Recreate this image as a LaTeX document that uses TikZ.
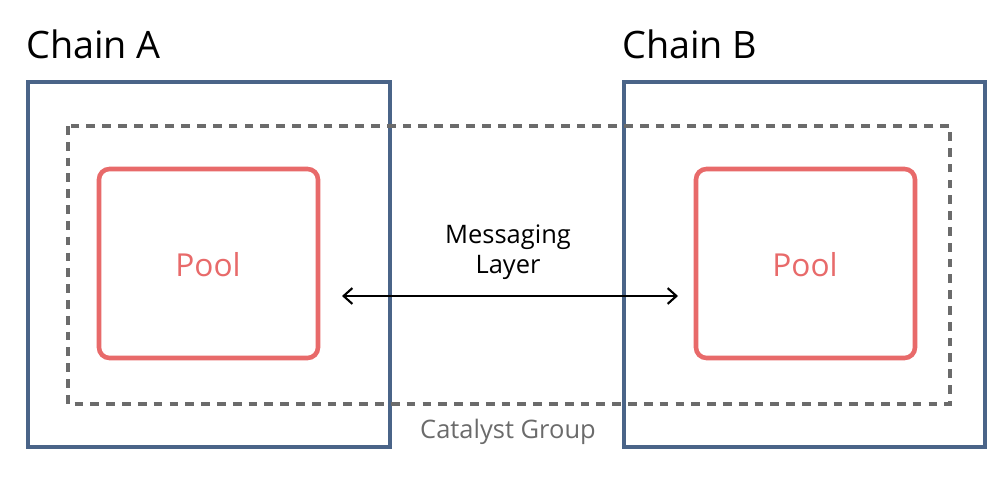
\documentclass[tikz,border=0pt]{standalone}
\usepackage{fontspec}
\usetikzlibrary{arrows.meta}
\setmainfont{Open Sans}
\definecolor{cblue}{HTML}{4A6488}
\definecolor{cred}{HTML}{E86A6A}
\definecolor{cgray}{HTML}{6B6B6B}
\begin{document}
\begin{tikzpicture}[x=0.02cm,y=-0.02cm,
  chain/.style={draw=cblue,line width=2.6pt},
  pool/.style={draw=cred,line width=2.6pt,rounded corners=6pt},
  lbl/.style={font=\fontsize{21.5}{26}\selectfont,anchor=west}]
\useasboundingbox (0,0) rectangle (1008,480);
\draw[chain] (28,82) rectangle (390,447);
\draw[chain] (624,82) rectangle (985,447);
\draw[cgray,line width=1.8pt,dash pattern=on 5pt off 4pt] (68,126) rectangle (950,404);
\draw[pool,fill=white] (99,169) rectangle (318,358);
\draw[pool,fill=white] (696,169) rectangle (915,358);
\node[text=cred,font=\fontsize{18}{22}\selectfont] (pa) at (208,265) {Pool};
\node[text=cred,font=\fontsize{18}{22}\selectfont] (pb) at (805,265) {Pool};
\node[lbl] (ca) at (20,44) {Chain A};
\node[lbl] (cb) at (616,44) {Chain B};
\node[align=center,font=\fontsize{14.5}{17}\selectfont] (ml) at (508,252) {Messaging\\Layer};
\coordinate (l) at (342,296);
\coordinate (r) at (678,296);
\draw[<->,line width=1.2pt,>={Straight Barb[length=5pt,width=9pt]}] (l) -- (r);
\node[text=cgray,font=\fontsize{14.5}{17}\selectfont] (cg) at (508,432) {Catalyst Group};
\end{tikzpicture}
\end{document}
